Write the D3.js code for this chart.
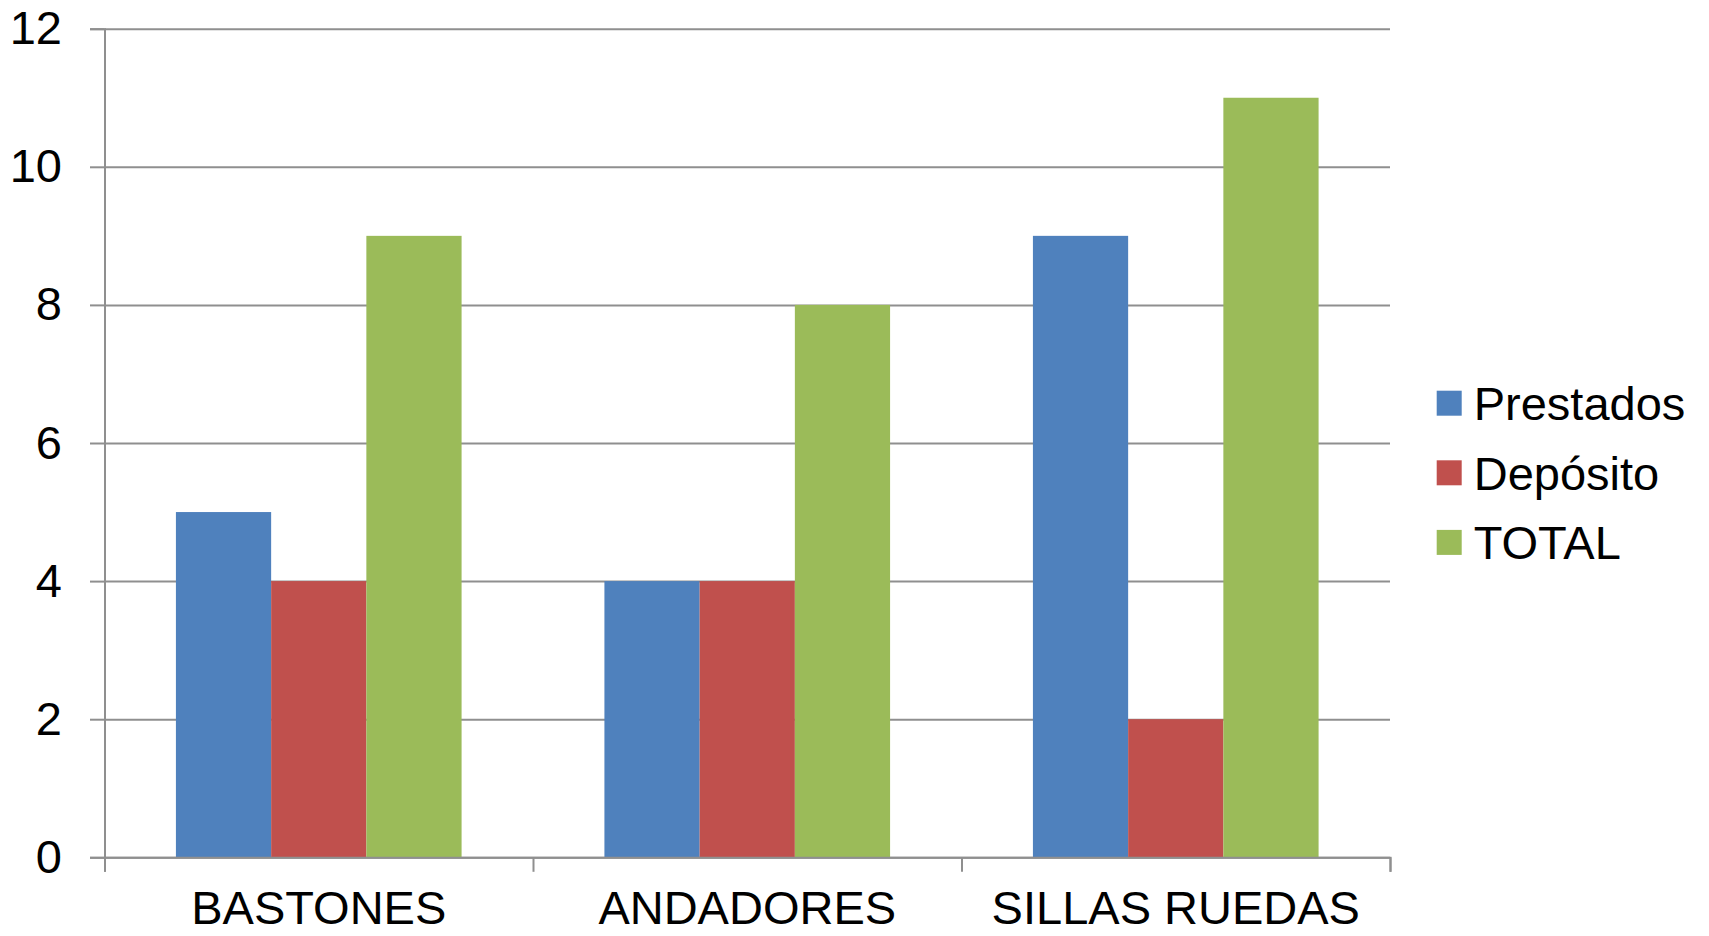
<!DOCTYPE html>
<html>
<head>
<meta charset="utf-8">
<script src="https://cdn.jsdelivr.net/npm/d3@7"></script>
<style>
  body { margin: 0; background: #fff; }
  text { font-family: Arial, "Liberation Sans", sans-serif; fill: #000; }
</style>
</head>
<body>
<svg id="chart"></svg>
<script>
// categories and series
const categories = ["BASTONES", "ANDADORES", "SILLAS RUEDAS"];
const seriesNames = ["Prestados", "Depósito", "TOTAL"];
const prestados = [5, 4, 9];
const deposito = [4, 4, 2];
const total = [9, 8, 11];
const yTicks = [0, 2, 4, 6, 8, 10, 12];
const colors = ["#4F81BD", "#C0504D", "#9BBB59"];

const seriesValues = [prestados, deposito, total];
const data = categories.map((c, i) => ({
  cat: c,
  values: seriesNames.map((s, j) => ({ name: s, value: seriesValues[j][i], color: colors[j] }))
}));

const width = 1709;
const height = 936;
const margin = { top: 28.7, right: 319, bottom: 78.7, left: 104.5 };
const plotRight = width - margin.right;
const plotBottom = height - margin.bottom;

const svg = d3.select("#chart")
  .attr("width", width)
  .attr("height", height);

const x = d3.scaleBand()
  .domain(categories)
  .range([margin.left, plotRight])
  .paddingInner(0)
  .paddingOuter(0);

const x1 = d3.scaleBand()
  .domain(seriesNames)
  .range([0, x.bandwidth()])
  .paddingInner(0)
  .paddingOuter(0.75);

const y = d3.scaleLinear()
  .domain([0, 12])
  .range([plotBottom, margin.top]);

// gridlines
svg.append("g")
  .attr("transform", `translate(${margin.left},0)`)
  .call(d3.axisLeft(y).tickValues(yTicks).tickSize(-(plotRight - margin.left)).tickFormat(""))
  .call(g => g.select(".domain").remove())
  .call(g => g.selectAll(".tick line").attr("stroke", "#8f8f8f").attr("stroke-width", 2));

// bars
svg.append("g")
  .selectAll("g")
  .data(data)
  .enter()
  .append("g")
  .attr("transform", d => `translate(${x(d.cat)},0)`)
  .selectAll("rect")
  .data(d => d.values)
  .enter()
  .append("rect")
  .attr("x", d => x1(d.name))
  .attr("y", d => y(d.value))
  .attr("width", x1.bandwidth())
  .attr("height", d => y(0) - y(d.value))
  .attr("fill", d => d.color);

// y axis
svg.append("g")
  .attr("transform", `translate(${margin.left},0)`)
  .call(d3.axisLeft(y).tickValues(yTicks).tickSize(14.5).tickPadding(28))
  .call(g => g.select(".domain").attr("stroke", "#8f8f8f").attr("stroke-width", 2))
  .call(g => g.selectAll(".tick line").attr("stroke", "#8f8f8f").attr("stroke-width", 2))
  .call(g => g.selectAll(".tick text").attr("font-size", 47).attr("font-family", "Arial, 'Liberation Sans', sans-serif"));

// x axis: boundary ticks
const xEdge = d3.scaleLinear().domain([0, categories.length]).range([margin.left, plotRight]);
svg.append("g")
  .attr("transform", `translate(0,${plotBottom})`)
  .call(d3.axisBottom(xEdge).tickValues(d3.range(categories.length + 1)).tickSize(14.5).tickFormat(""))
  .call(g => g.select(".domain").attr("stroke", "#8f8f8f").attr("stroke-width", 2))
  .call(g => g.selectAll(".tick line").attr("stroke", "#8f8f8f").attr("stroke-width", 2));

// x axis: category labels
svg.append("g")
  .attr("transform", `translate(0,${plotBottom})`)
  .call(d3.axisBottom(x).tickSize(0).tickPadding(33))
  .call(g => g.select(".domain").remove())
  .call(g => g.selectAll(".tick text").attr("font-size", 47).attr("font-family", "Arial, 'Liberation Sans', sans-serif"));

// legend
const legend = svg.append("g")
  .attr("transform", "translate(1436.7,403.2)");

const item = legend.selectAll("g")
  .data(seriesNames)
  .enter()
  .append("g")
  .attr("transform", (d, i) => `translate(0,${i * 69.6})`);

item.append("rect")
  .attr("x", 0)
  .attr("y", -12.5)
  .attr("width", 25)
  .attr("height", 25)
  .attr("fill", (d, i) => colors[i]);

item.append("text")
  .attr("x", 37)
  .attr("y", 16.8)
  .attr("font-size", 47)
  .text(d => d);
</script>
</body>
</html>
